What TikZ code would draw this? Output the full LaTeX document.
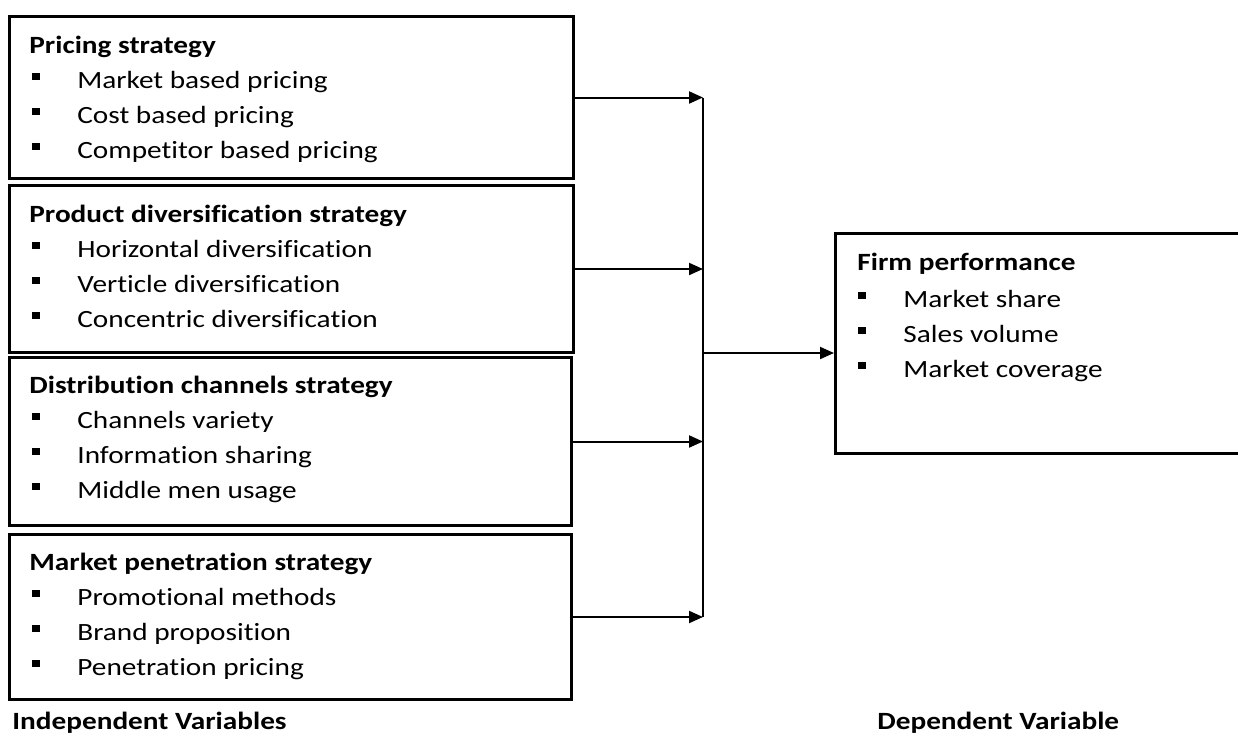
\documentclass[tikz,border=0pt]{standalone}
\usepackage{fontspec}
\setmainfont{Carlito}[FakeStretch=1.18,Ligatures={NoCommon}]
\usetikzlibrary{arrows.meta}
\usetikzlibrary{positioning}
\newcommand{\sqbullet}{\makebox[22.5pt][l]{\raisebox{4pt}{\rule{4pt}{3.4pt}}}}

\begin{document}
\begin{tikzpicture}[
  x=0.5pt,y=-0.5pt,
  font=\fontsize{12.4}{17.5}\selectfont,
  box/.style={draw,line width=1.5pt,inner sep=0,anchor=north west},
  head/.style={anchor=base west,inner sep=0,font=\fontsize{12.4}{17.5}\selectfont\bfseries},
  item/.style={anchor=base west,inner sep=0},
  arr/.style={line width=1pt,-{Triangle[length=7pt,width=6pt]}},
]
  \useasboundingbox (0,0) rectangle (1238,736);
  % independent variables
  \node[box,minimum width=282pt,minimum height=81pt] (pr) at (8,15) {};
  \node[box,minimum width=282pt,minimum height=83.5pt] (pd) at (8,184) {};
  \node[box,minimum width=281pt,minimum height=84pt] (dc) at (8,356) {};
  \node[box,minimum width=281pt,minimum height=82.5pt] (mp) at (8,533) {};
  \node[head] (prt) at (29,53) {Pricing strategy};
  \foreach \t [count=\i] in {Market based pricing,Cost based pricing,Competitor based pricing}
    \node[item] (pr\i) at (32,53+35*\i) {\sqbullet\t};
  \node[head] (pdt) at (29,222) {Product diversification strategy};
  \foreach \t [count=\i] in {Horizontal diversification,Verticle diversification,Concentric diversification}
    \node[item] (pd\i) at (32,222+35*\i) {\sqbullet\t};
  \node[head] (dct) at (29,393) {Distribution channels strategy};
  \foreach \t [count=\i] in {Channels variety,Information sharing,Middle men usage}
    \node[item] (dc\i) at (32,393+35*\i) {\sqbullet\t};
  \node[head] (mpt) at (29,570) {Market penetration strategy};
  \foreach \t [count=\i] in {Promotional methods,Brand proposition,Penetration pricing}
    \node[item] (mp\i) at (32,570+35*\i) {\sqbullet\t};
  % dependent variable
  \node[box,minimum width=205.5pt,minimum height=110pt] (fp) at (834,232) {};
  \node[head] (fpt) at (857,270) {Firm performance};
  \foreach \t [count=\i] in {Market share,Sales volume,Market coverage}
    \node[item] (fp\i) at (858,272+35*\i) {\sqbullet\t};
  \node[head] (ind) at (12,729) {Independent Variables};
  \node[head] (dep) at (877,729) {Dependent Variable};
  % connectors
  \coordinate (jn) at (703,353);
  \foreach \b in {pr,pd,dc,mp}
    \draw[arr] (\b.east) -- (\b.east -| jn);
  \draw[line width=1pt] (pr.east -| jn) -- (mp.east -| jn);
  \draw[arr] (jn) -- (jn -| fp.west);
\end{tikzpicture}
\end{document}
